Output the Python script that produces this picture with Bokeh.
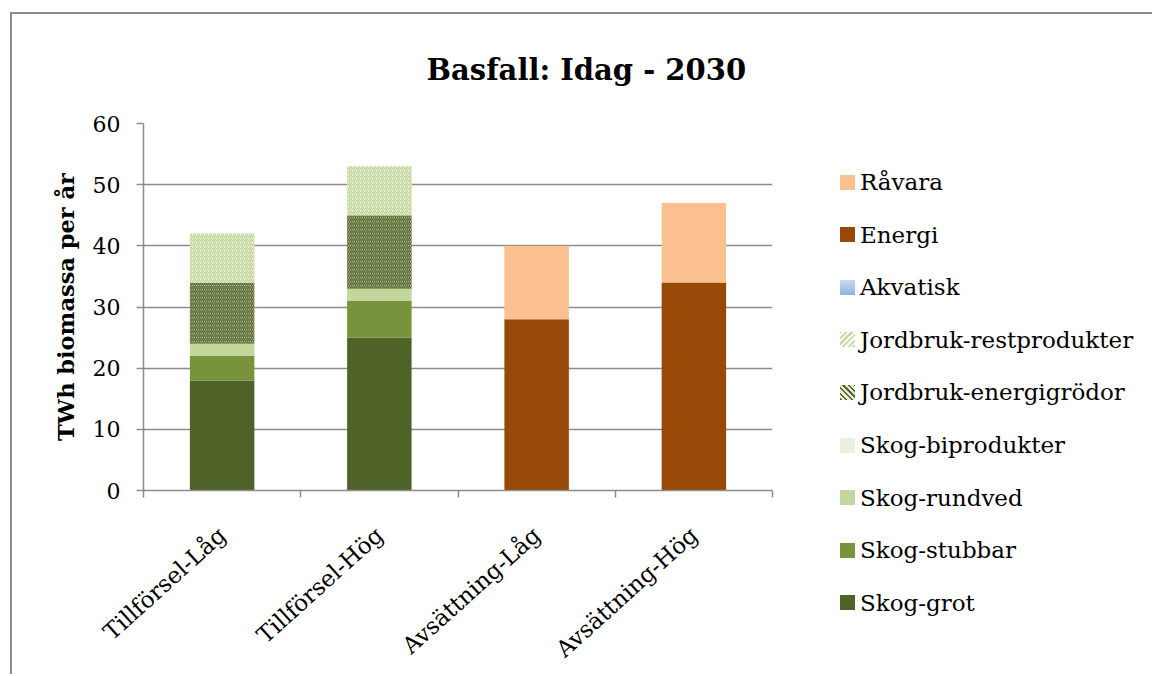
from bokeh.plotting import figure
from bokeh.layouts import row
from bokeh.models import (Range1d, FactorRange, LinearAxis, CategoricalAxis, FixedTicker,
                          ColumnDataSource, Div)
from bokeh.embed import file_html
from bokeh.resources import INLINE
import math

# ---------------- data ----------------
categories = ["Tillförsel-Låg", "Tillförsel-Hög", "Avsättning-Låg", "Avsättning-Hög"]
skog_grot = [18, 25, 0, 0]
skog_stubbar = [4, 6, 0, 0]
skog_rundved = [2, 2, 0, 0]
skog_biprodukter = [0, 0, 0, 0]
jordbruk_energigrodor = [10, 12, 0, 0]
jordbruk_restprodukter = [8, 8, 0, 0]
akvatisk = [0, 0, 0, 0]
energi = [0, 0, 28, 34]
ravara = [0, 0, 12, 13]
series_names = ["Skog-grot", "Skog-stubbar", "Skog-rundved", "Skog-biprodukter",
                "Jordbruk-energigrödor", "Jordbruk-restprodukter", "Akvatisk",
                "Energi", "Råvara"]
y_ticks = [0, 10, 20, 30, 40, 50, 60]
title_text = "Basfall: Idag - 2030"
y_label = "TWh biomassa per år"

# ---------------- styles ----------------
colors = ["#4f6228", "#77933c", "#c3d69b", "#ebf1de", "#e4ead6", "#f7faf1",
          "#a9c4e6", "#984807", "#fac090"]
hatch_patterns = ["blank", "blank", "blank", "blank", "left_diagonal_line",
                  "right_diagonal_line", "blank", "blank", "blank"]
hatch_colors = ["#000000"] * 4 + ["#56692c", "#c3d69b"] + ["#000000"] * 3
FONT = "DejaVu Serif"
GRAY = "#8c8c8c"

values = [skog_grot, skog_stubbar, skog_rundved, skog_biprodukter,
          jordbruk_energigrodor, jordbruk_restprodukter, akvatisk, energi, ravara]
data = {"cat": categories}
for name, vals in zip(series_names, values):
    data[name] = vals
source = ColumnDataSource(data)

# ---------------- main chart ----------------
p = figure(x_range=FactorRange(*categories), y_range=Range1d(0, 60),
           frame_width=629, frame_height=380, output_backend="svg",
           toolbar_location=None, x_axis_location=None,
           min_border_left=131, min_border_top=107,
           min_border_right=10, min_border_bottom=150)
p.outline_line_color = None
p.xgrid.grid_line_color = None
p.ygrid.grid_line_color = GRAY
p.ygrid.grid_line_width = 1.5
p.ygrid.ticker = FixedTicker(ticks=y_ticks)

renderers = p.vbar_stack(series_names, x="cat", width=0.41, source=source,
                         fill_color=colors, line_color=None,
                         hatch_pattern=hatch_patterns, hatch_color=hatch_colors,
                         hatch_scale=4, hatch_weight=1.5)

# title
p.title.text = title_text
p.title.align = "left"
p.title.offset = 283
p.title.standoff = 73
p.title.text_font = FONT
p.title.text_font_style = "bold"
p.title.text_font_size = "29px"
p.title.text_color = "black"

# y axis
ya = p.yaxis[0]
ya.ticker = FixedTicker(ticks=y_ticks)
ya.axis_line_color = GRAY
ya.axis_line_width = 1.5
ya.major_tick_line_color = GRAY
ya.major_tick_line_width = 1.5
ya.major_tick_out = 7
ya.major_tick_in = 0
ya.minor_tick_line_color = None
ya.major_label_text_font = FONT
ya.major_label_text_font_size = "22px"
ya.major_label_text_color = "black"
ya.major_label_standoff = 16
ya.axis_label = y_label
ya.axis_label_text_font = FONT
ya.axis_label_text_font_style = "bold"
ya.axis_label_text_font_size = "22.5px"
ya.axis_label_text_color = "black"
ya.axis_label_standoff = 11

# x tick axis at category boundaries (synthetic coordinates of the factor range)
bound_ticks = list(range(len(categories) + 1))
tick_axis = LinearAxis(ticker=FixedTicker(ticks=bound_ticks),
                       major_label_overrides={t: "" for t in bound_ticks},
                       major_label_text_font_size="0px",
                       major_label_standoff=0, major_tick_out=7, major_tick_in=0,
                       minor_tick_line_color=None, axis_line_color=GRAY,
                       axis_line_width=1.5, major_tick_line_color=GRAY,
                       major_tick_line_width=1.5)
p.add_layout(tick_axis, "below")

cat_axis = CategoricalAxis(axis_line_color=None, major_tick_line_color=None,
                           major_tick_out=0, major_tick_in=0,
                           major_label_orientation=math.radians(42),
                           major_label_text_font=FONT,
                           major_label_text_font_size="23px",
                           major_label_text_color="black",
                           major_label_standoff=34)
p.add_layout(cat_axis, "below")

# ---------------- legend (HTML, reversed series order) ----------------
def swatch_css(color, pattern, hcolor):
    if pattern == "left_diagonal_line":
        return f"repeating-linear-gradient(45deg, {hcolor} 0 1.5px, {color} 1.5px 4px)"
    if pattern == "right_diagonal_line":
        return f"repeating-linear-gradient(-45deg, {hcolor} 0 1.5px, {color} 1.5px 4px)"
    if color == "#a9c4e6":
        return "linear-gradient(#c6d9f1, #8eb4e3)"
    return color

rows_html = []
order = list(range(len(series_names)))[::-1]
for k, i in enumerate(order):
    top = 150 + k * 52.6
    rows_html.append(
        f'<div style="position:absolute; left:53px; top:{top:.1f}px; height:26px; '
        f'display:flex; align-items:center; white-space:nowrap;">'
        f'<span style="display:inline-block; width:15px; height:15px; margin-right:5px; '
        f'background:{swatch_css(colors[i], hatch_patterns[i], hatch_colors[i])};"></span>'
        f'<span>{series_names[i]}</span></div>')
legend_html = (f'<div style="position:relative; width:360px; height:640px; '
               f'font-family:\'{FONT}\'; font-size:23px; color:black; line-height:26px;">'
               + "".join(rows_html) + '</div>')
legend_div = Div(text=legend_html, width=362, height=640)

layout = row(p, legend_div,
             styles={"border-left": "2px solid #8c8c8c", "border-top": "2px solid #8c8c8c",
                     "margin-left": "10px", "margin-top": "12px",
                     "height": "662px", "overflow": "hidden"})

open("out.html", "w").write(file_html(layout, INLINE))
